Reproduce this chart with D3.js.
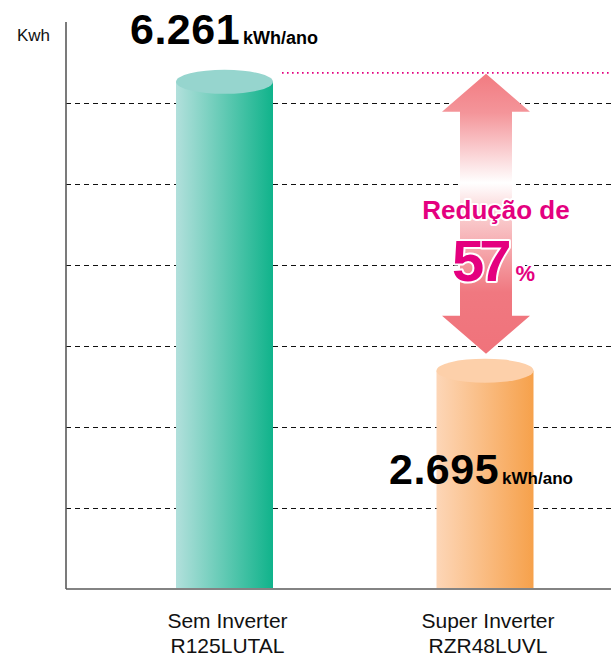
<!DOCTYPE html>
<html>
<head>
<meta charset="utf-8">
<script src="https://cdn.jsdelivr.net/npm/d3@7"></script>
<style>
  html, body { margin: 0; padding: 0; background: #fff; }
  svg { display: block; font-family: "Liberation Sans", Arial, Helvetica, sans-serif; }
</style>
</head>
<body>
<div id="chart"></div>
<script>
// ---- data ----
const categories = ['Sem Inverter', 'Super Inverter'];
const models = ['R125LUTAL', 'RZR48LUVL'];
const consumption = [6261, 2695];
const valueLabels = ['6.261', '2.695'];
const gridTicks = [1000, 2000, 3000, 4000, 5000, 6000];
const unitLabel = 'kWh/ano';
const axisTitle = 'Kwh';
const reductionText = 'Redução de';
const reductionPct = '57';

(function () {
  const W = 611, H = 657;
  const M = { left: 66, right: 0, top: 22, bottom: 68 };
  const barW = 97, ry = 12;

  const svg = d3.select('#chart').append('svg')
    .attr('width', W).attr('height', H);

  const y = d3.scaleLinear().domain([0, 7000]).range([H - M.bottom, M.top]);
  const x = d3.scalePoint().domain(categories).range([224.5, 485]);

  const defs = svg.append('defs');
  const barColors = [
    { left: '#b2e0dc', right: '#10b38b', cap: '#96d5ce' },
    { left: '#fdd6b7', right: '#f6a14b', cap: '#fdd0aa' }
  ];
  barColors.forEach((c, i) => {
    const g = defs.append('linearGradient').attr('id', 'bar' + i)
      .attr('x1', '0%').attr('x2', '100%').attr('y1', '0%').attr('y2', '0%');
    g.append('stop').attr('offset', '0%').attr('stop-color', c.left);
    g.append('stop').attr('offset', '100%').attr('stop-color', c.right);
  });

  // ---- gridlines ----
  svg.append('g')
    .attr('transform', `translate(${M.left},0)`)
    .call(d3.axisLeft(y).tickValues(gridTicks).tickSize(-(W - M.left)).tickFormat(''))
    .call(g => g.select('.domain').remove())
    .call(g => g.selectAll('.tick line')
      .attr('stroke', '#111').attr('stroke-width', 1).attr('stroke-dasharray', '5,4'));

  // ---- axes ----
  svg.append('line')
    .attr('x1', M.left).attr('x2', M.left)
    .attr('y1', M.top).attr('y2', y(0))
    .attr('stroke', '#5a5a5a').attr('stroke-width', 1.6);
  svg.append('line')
    .attr('x1', M.left).attr('x2', W)
    .attr('y1', y(0)).attr('y2', y(0))
    .attr('stroke', '#5a5a5a').attr('stroke-width', 1.6);

  svg.append('text')
    .attr('x', 17).attr('y', 41)
    .attr('font-size', 17).attr('fill', '#111')
    .text(axisTitle);

  // ---- cylinders ----
  const bars = svg.selectAll('.bar').data(consumption).enter().append('g').attr('class', 'bar');
  bars.append('rect')
    .attr('x', (d, i) => x(categories[i]) - barW / 2)
    .attr('y', d => y(d))
    .attr('width', barW)
    .attr('height', d => y(0) - y(d) - 1)
    .attr('fill', (d, i) => `url(#bar${i})`);
  bars.append('ellipse')
    .attr('cx', (d, i) => x(categories[i]))
    .attr('cy', d => y(d))
    .attr('rx', barW / 2).attr('ry', ry)
    .attr('fill', (d, i) => barColors[i].cap);

  // ---- reference dotted line at first value ----
  svg.append('line')
    .attr('x1', 282).attr('x2', W)
    .attr('y1', y(consumption[0]) - 9).attr('y2', y(consumption[0]) - 9)
    .attr('stroke', '#e4007f').attr('stroke-width', 1.6)
    .attr('stroke-dasharray', '1.6,3.4');

  // ---- double arrow ----
  const ax = 486;
  const yTop = y(consumption[0]) - 8, yBot = y(consumption[1]) - 17;
  const headH = 38, headHalf = 44, shaftHalf = 26;
  const ag = defs.append('linearGradient').attr('id', 'arrowGrad')
    .attr('gradientUnits', 'userSpaceOnUse')
    .attr('x1', 0).attr('x2', 0).attr('y1', yTop).attr('y2', yBot);
  [[0, '#f27b81'], [0.14, '#f4959a'], [0.39, '#ffffff'], [0.52, '#f9c9cb'],
   [0.78, '#f07880'], [1, '#f0737b']].forEach(s =>
    ag.append('stop').attr('offset', s[0]).attr('stop-color', s[1]));
  const pts = [
    [ax, yTop], [ax + headHalf, yTop + headH], [ax + shaftHalf, yTop + headH],
    [ax + shaftHalf, yBot - headH], [ax + headHalf, yBot - headH], [ax, yBot],
    [ax - headHalf, yBot - headH], [ax - shaftHalf, yBot - headH],
    [ax - shaftHalf, yTop + headH], [ax - headHalf, yTop + headH]
  ];
  svg.append('path')
    .attr('d', d3.line()(pts) + 'Z')
    .attr('fill', 'url(#arrowGrad)');

  // ---- reduction text ----
  const pink = '#e4007f';
  svg.append('text')
    .attr('x', 496).attr('y', 219)
    .attr('text-anchor', 'middle')
    .attr('font-size', 26).attr('font-weight', 'bold')
    .attr('fill', pink).attr('stroke', '#fff').attr('stroke-width', 4)
    .attr('stroke-linejoin', 'round').attr('paint-order', 'stroke')
    .text(reductionText);
  const pct = svg.append('text')
    .attr('x', 452).attr('y', 281)
    .attr('font-weight', 'bold')
    .attr('fill', pink).attr('stroke', '#fff').attr('stroke-width', 4)
    .attr('stroke-linejoin', 'round').attr('paint-order', 'stroke');
  pct.append('tspan').attr('font-size', 58).attr('letter-spacing', -5).text(reductionPct);
  pct.append('tspan').attr('font-size', 22).attr('dx', 9).text('%');

  // ---- value labels ----
  const valPos = [[130, 44], [389, 484]];
  const unitSize = [18, 17];
  valueLabels.forEach((v, i) => {
    const t = svg.append('text')
      .attr('x', valPos[i][0]).attr('y', valPos[i][1])
      .attr('font-weight', 'bold').attr('fill', '#000');
    t.append('tspan').attr('font-size', 43).attr('letter-spacing', 0.5).text(v);
    t.append('tspan').attr('font-size', unitSize[i]).attr('dx', 3).text(unitLabel);
  });

  // ---- category labels ----
  const cat = svg.selectAll('.cat').data(categories).enter().append('text')
    .attr('class', 'cat')
    .attr('text-anchor', 'middle')
    .attr('font-size', 21).attr('fill', '#111')
    .attr('transform', d => `translate(${x(d) + 3},628)`);
  cat.append('tspan').attr('x', 0).attr('y', 0).text(d => d);
  cat.append('tspan').attr('x', 0).attr('y', 25).text((d, i) => models[i]);
})();
</script>
</body>
</html>
